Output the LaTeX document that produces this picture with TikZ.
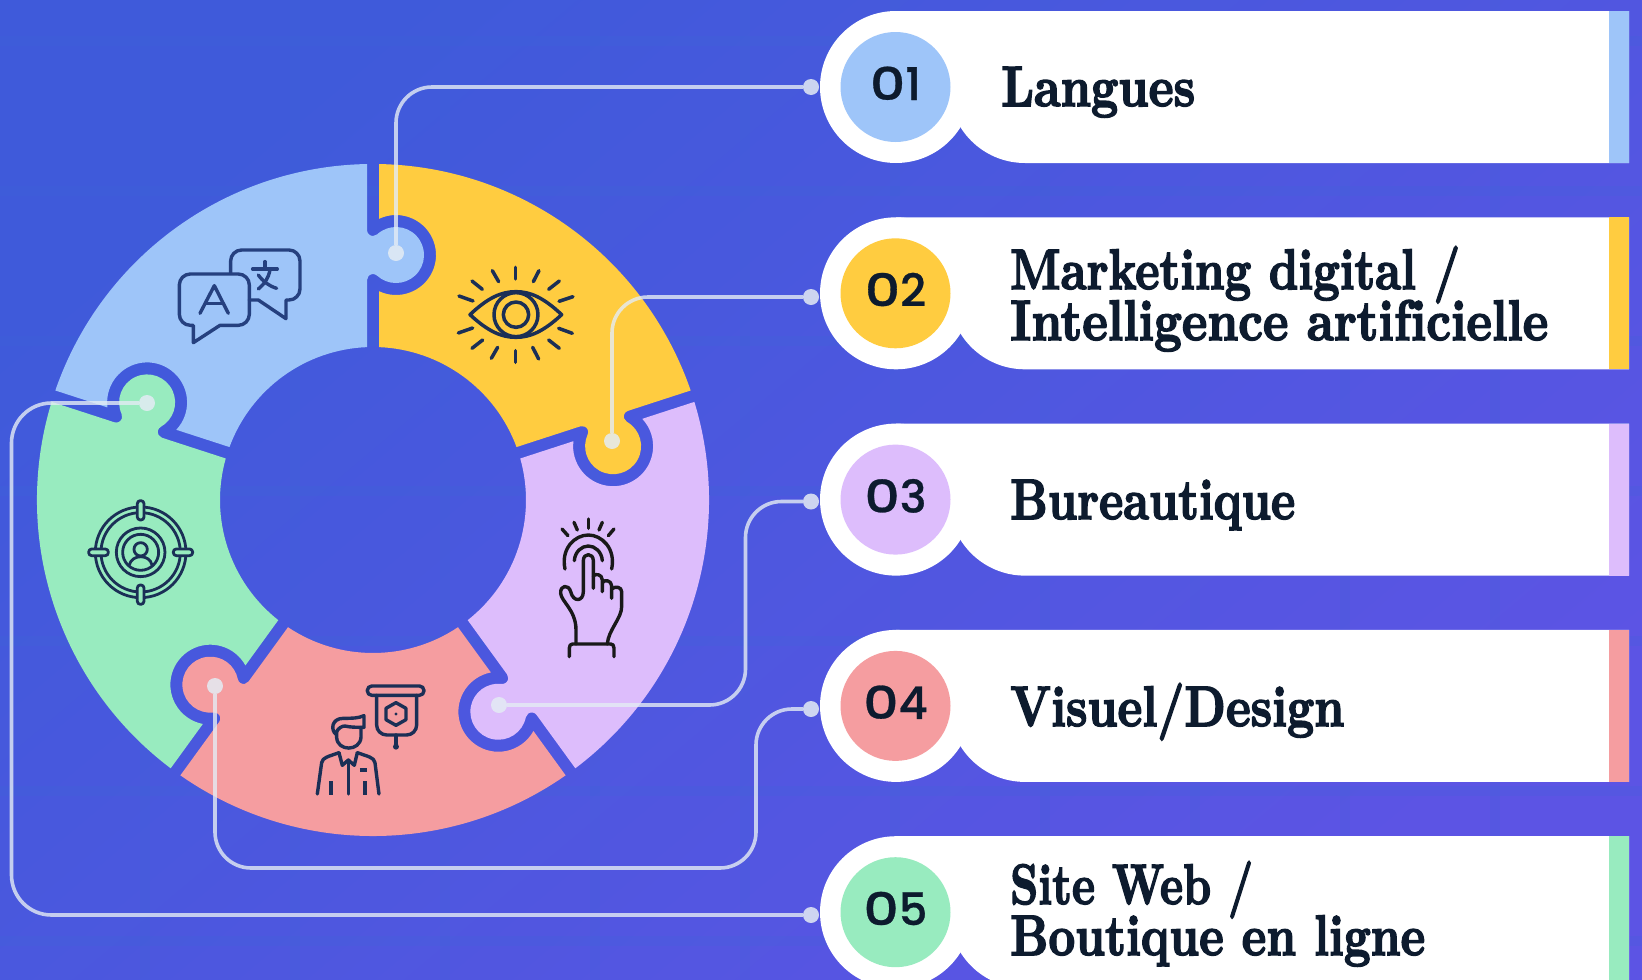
\documentclass[tikz,border=0pt]{standalone}
\usepackage{fontspec}
\newfontfamily\numfont{Poppins Medium}[FakeBold=0.6]
\newfontfamily\labfont{lmroman10-bold.otf}[FakeBold=2.8,Ligatures=NoCommon]
\definecolor{bgA}{HTML}{3F5ADA}
\definecolor{bgB}{HTML}{5C54E4}
\definecolor{gridc}{HTML}{3A6AD6}
\definecolor{cBlue}{HTML}{9EC5F9}
\definecolor{cYellow}{HTML}{FFCC40}
\definecolor{cLilac}{HTML}{DDBDFC}
\definecolor{cPink}{HTML}{F59DA0}
\definecolor{cGreen}{HTML}{98EBBF}
\definecolor{ink}{HTML}{0D1B2E}
\definecolor{linec}{HTML}{E4ECF4}
\definecolor{iconA}{HTML}{25407F}
\definecolor{iconB}{HTML}{1B2F56}
\normallineskiplimit=-100pt
\lineskiplimit=-100pt
\tikzset{
  conn/.style={draw=linec,draw opacity=.8,line width=3.6pt},
  dotn/.style={circle,fill=linec,fill opacity=.85,minimum size=16pt,inner sep=0pt,outer sep=0pt},
  numc/.style={circle,minimum size=110pt,inner sep=0pt},
  numt/.style={font=\numfont\fontsize{45}{45}\selectfont,text=ink,anchor=base,inner sep=0pt},
  lab/.style={font=\labfont\fontsize{57}{51}\selectfont,text=ink,anchor=base west,inner sep=0pt},
  ico/.style={line cap=round,line join=round}
}
\newcommand{\piece}[2]{%
  \begin{scope}[shift={(373,500)},y=1pt,rotate=#1]
    \fill[#2] (-6,335.95) -- (-6,270)
      arc[start angle=180,end angle=312.7,radius=6pt]
      arc[start angle=132.6,end angle=-132.6,radius=28pt]
      arc[start angle=47.3,end angle=180,radius=6pt]
      -- (-6,152.88)
      arc[start angle=92.25,end angle=159.75,radius=153pt]
      -- ([rotate=72]6,208.8)
      arc[start angle=-43.2,end angle=187.2,radius=40pt]
      -- ([rotate=72]6,335.95)
      arc[start angle=160.98,end angle=91.02,radius=336pt]
      -- cycle;
  \end{scope}}
\newcommand{\card}[4]{% y, color, name, last digit
  \fill[white] (896,#1) circle[radius=76pt];
  \fill[white] (896,#1-76) -- (1629,#1-76) -- (1629,#1+76)
     [rounded corners=75.9pt] -- (949,#1+76) [sharp corners] -- (949,#1) -- (896,#1) -- cycle;
  \fill[#2] (1609,#1-76) rectangle (1629,#1+76);
  \node[numc,fill=#2] (#3) at (895.5,#1) {};
  \node[numt] (#3t) at (895.5,#1+13) {\scalebox{1.22}[1]{0}#4};
}
\newcommand{\fitw}[2]{\resizebox{#1pt}{\height}{#2}}
\newcommand{\lbl}[5]{\node[lab] (#1) at (#2,#3) {\fitw{#4}{#5}};}
\begin{document}
\begin{tikzpicture}[x=1pt,y=-1pt]
\clip (0,0) rectangle (1642,980);
\useasboundingbox (0,0) rectangle (1642,980);
\shade[left color=bgA,right color=bgB,shading angle=40] (0,0) rectangle (1642,980);
% faint grid
\foreach \k in {0,...,9} {
  \fill[gridc,opacity=.18] (140+150*\k,0) rectangle (150+150*\k,980);
}
\foreach \k in {0,...,6} {
  \fill[gridc,opacity=.18] (0,36+150*\k) rectangle (1642,46+150*\k);
}
% ring
\piece{0}{cBlue}
\piece{-72}{cYellow}
\piece{-144}{cLilac}
\piece{-216}{cPink}
\piece{-288}{cGreen}
% cards
\card{87}{cBlue}{n1}{1}
\card{293.3}{cYellow}{n2}{2}
\card{499.6}{cLilac}{n3}{3}
\card{705.9}{cPink}{n4}{4}
\card{912.2}{cGreen}{n5}{5}
\lbl{l1}{1001}{106}{194}{Langues}
\node[lab,align=left] (l2) at (1010,340) {\fitw{450}{Marketing digital /}\\\fitw{538}{Intelligence artificielle}};
\lbl{l3}{1010}{519}{285}{Bureautique}
\lbl{l4}{1010}{726}{334}{Visuel/Design}
\node[lab,align=left] (l5) at (1010,955) {\fitw{243}{Site Web /}\\\fitw{415}{Boutique en ligne}};
% icon: chat
\begin{scope}[shift={(130,220)},x=.3333pt,y=-.3333pt,ico,draw=iconA,line width=3.4pt]
  \draw (302,160) [rounded corners=11pt] -- (302,90) -- (510,90) -- (510,240) [sharp corners] -- (468,240) -- (468,296) -- (385,240) -- (358,240);
  \draw (190,368) -- (270,316) [rounded corners=11pt] -- (358,316) -- (358,162) -- (148,162) -- (148,316) [sharp corners] -- (190,316) -- cycle;
  \draw (210,280) -- (253,197) -- (295,280);
  \draw (228,250) -- (278,250);
  \draw (368,147) -- (442,147);
  \draw (405,125) -- (405,147);
  \draw (420,150) .. controls (415,175) and (405,190) .. (385,207);
  \draw (385,165) .. controls (400,185) and (415,197) .. (440,205);
\end{scope}
% icon: eye
\begin{scope}[shift={(420,220)},x=.3333pt,y=-.3333pt,ico,draw=iconB,line width=3.5pt]
  \draw (150,284) .. controls (205,232) and (245,215) .. (288,215) .. controls (330,215) and (370,232) .. (425,284) .. controls (370,335) and (330,352) .. (288,352) .. controls (245,352) and (205,335) .. (150,284) -- cycle;
  \draw (288,284) circle[radius=66];
  \draw (288,284) circle[radius=38];
  \foreach \a/\b/\c/\d in {286/142/286/177,217/152/236/185,357/152/340/185,156/183/187/208,418/183/386/208,117/228/159/243,459/230/417/244,115/339/158/324,457/340/416/325,156/385/188/360,418/385/386/360,214/415/233/382,356/417/338/382,287/392/287/427}
    \draw (\a,\b) -- (\c,\d);
\end{scope}
% icon: hand
\begin{scope}[shift={(540,510)},x=.3333pt,y=-.3333pt,ico,draw=black!90,line width=3.4pt]
  \draw (75,177) .. controls (62,115) and (105,75) .. (145,75) .. controls (185,75) and (228,115) .. (215,177);
  \draw (103,152) .. controls (105,125) and (125,108) .. (145,108) .. controls (165,108) and (185,125) .. (187,152);
  \foreach \a/\b/\c/\d in {145/27/145/55,102/37/112/60,187/37/177/60,66/57/84/77,222/57/205/77}
    \draw (\a,\b) -- (\c,\d);
  \draw (160,235) -- (160,152) .. controls (160,128) and (130,128) .. (130,152) -- (130,245) .. controls (130,275) and (100,278) .. (92,245) .. controls (86,222) and (60,225) .. (62,250) .. controls (64,275) and (108,300) .. (108,360) -- (108,402);
  \draw (202,402) .. controls (205,360) and (245,325) .. (245,290) -- (245,245) .. controls (245,230) and (225,228) .. (215,237);
  \draw (215,265) -- (215,228) .. controls (215,210) and (192,208) .. (187,218);
  \draw (187,245) -- (187,210) .. controls (187,192) and (165,190) .. (160,198);
  \draw (88,440) -- (88,414) .. controls (88,406) and (92,402) .. (98,402) -- (212,402) .. controls (218,402) and (222,406) .. (222,414) -- (222,440);
\end{scope}
% icon: target
\begin{scope}[shift={(0,350)},x=.3333pt,y=-.3333pt,ico,draw=iconB,line width=2.8pt]
  \draw (422,607) circle[radius=136];
  \draw (422,607) circle[radius=119];
  \draw (422,607) circle[radius=73];
  \draw (422,607) circle[radius=54];
  \draw (422,598) circle[radius=20];
  \draw (388,645) .. controls (395,612) and (450,612) .. (456,645);
  \draw[fill=cGreen,rounded corners=3pt] (412,452) rectangle (432,510);
  \draw[fill=cGreen,rounded corners=3pt] (412,705) rectangle (432,763);
  \draw[fill=cGreen,rounded corners=3pt] (266,597) rectangle (325,617);
  \draw[fill=cGreen,rounded corners=3pt] (520,597) rectangle (578,617);
\end{scope}
% icon: presenter
\begin{scope}[shift={(160,620)},x=.3333pt,y=-.3333pt,ico,draw=iconB,line width=3.4pt]
  \draw[rounded corners=4.5pt] (622,198) rectangle (792,226);
  \draw[rounded corners=10pt] (650,226) -- (650,345) -- (770,345) -- (770,226);
  \draw (708,345) -- (708,375);
  \fill[iconB] (708,380) circle[radius=9];
  \draw (708,248) -- (738,265) -- (738,299) -- (708,316) -- (678,299) -- (678,265) -- cycle;
  \fill[iconB] (708,282) circle[radius=5];
  \draw (530,335) -- (530,352) .. controls (532,395) and (600,395) .. (603,352) -- (603,322);
  \draw (530,345) .. controls (510,330) and (515,295) .. (550,295) .. controls (575,295) and (595,295) .. (612,287) -- (612,322) .. controls (590,322) and (570,322) .. (555,318) .. controls (545,318) and (535,325) .. (530,335);
  \draw (472,522) -- (485,428) .. controls (488,412) and (505,410) .. (537,398);
  \draw (657,522) -- (645,428) .. controls (642,412) and (625,410) .. (592,398);
  \draw (537,398) -- (547,436) -- (565,420) -- (583,436) -- (592,398);
  \draw (565,420) -- (565,522);
  \draw[line width=4pt,line cap=butt] (513,484) -- (513,524);
  \draw[line width=4pt,line cap=butt] (615,484) -- (615,524);
  \draw[line width=4pt,line cap=butt] (600,450) -- (622,450);
\end{scope}
% connector end points
\node[dotn] (t1) at (396,253) {};
\node[dotn] (t2) at (612,441) {};
\node[dotn] (t3) at (499,705) {};
\node[dotn] (t4) at (215,686) {};
\node[dotn] (t5) at (147,403) {};
\node[dotn] (c1) at (811,87) {};
\node[dotn] (c2) at (811,297) {};
\node[dotn] (c3) at (811,501.5) {};
\node[dotn] (c4) at (811,709) {};
\node[dotn] (c5) at (811,915) {};
\coordinate (k3a) at (745.5,501.5);
\coordinate (k3b) at (745.5,705);
\coordinate (k4a) at (756,709);
\coordinate (k4b) at (756,868);
\coordinate (k4c) at (215,868);
\coordinate (k5a) at (11.5,915);
\coordinate (k5b) at (11.5,403);
\draw[conn,rounded corners=36pt] (t1) |- (c1);
\draw[conn,rounded corners=36pt] (t2) |- (c2);
\draw[conn,rounded corners=36pt] (c3) -- (k3a) -- (k3b) -- (t3);
\draw[conn,rounded corners=36pt] (c4) -- (k4a) -- (k4b) -- (k4c) -- (t4);
\draw[conn,rounded corners=40pt] (c5) -- (k5a) -- (k5b) -- (t5);
\end{tikzpicture}
\end{document}
